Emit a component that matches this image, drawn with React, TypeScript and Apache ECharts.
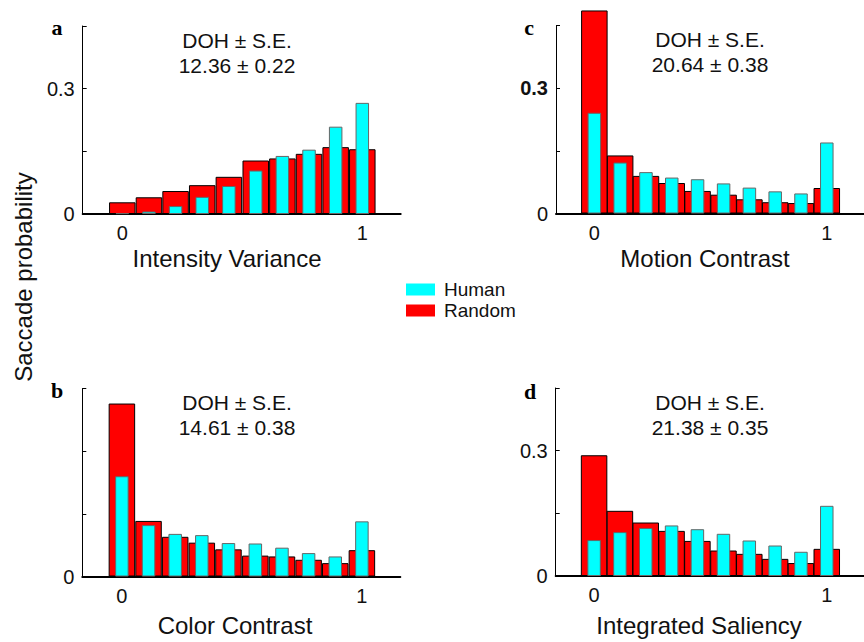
import React, { useEffect, useRef } from "react";
import * as echarts from "echarts";

const binCenters = [0, 0.111, 0.222, 0.333, 0.444, 0.556, 0.667, 0.778, 0.889, 1];

const intensityRandom = [0.028, 0.04, 0.055, 0.069, 0.089, 0.128, 0.133, 0.144, 0.16, 0.155];
const intensityHuman = [0.002, 0.006, 0.019, 0.041, 0.067, 0.104, 0.139, 0.154, 0.209, 0.266];
const motionRandom = [0.486, 0.139, 0.09, 0.073, 0.054, 0.045, 0.034, 0.027, 0.025, 0.061];
const motionHuman = [0.241, 0.122, 0.099, 0.086, 0.082, 0.072, 0.062, 0.053, 0.048, 0.17];
const colorRandom = [0.414, 0.133, 0.095, 0.081, 0.065, 0.05, 0.048, 0.04, 0.032, 0.063];
const colorHuman = [0.24, 0.123, 0.102, 0.099, 0.08, 0.079, 0.069, 0.056, 0.048, 0.132];
const salRandom = [0.289, 0.156, 0.128, 0.108, 0.084, 0.061, 0.053, 0.041, 0.031, 0.065];
const salHuman = [0.086, 0.105, 0.115, 0.121, 0.112, 0.101, 0.085, 0.073, 0.058, 0.168];

const panelLetters = ["a", "c", "b", "d"];
const axisNames = ["Intensity Variance", "Motion Contrast", "Color Contrast", "Integrated Saliency"];
const dohValues = ["12.36 ± 0.22", "20.64 ± 0.38", "14.61 ± 0.38", "21.38 ± 0.35"];
const xTickValues = [0, 1];
const yTickLabelValue = 0.3;

const FONT = "'Liberation Sans', Arial, Helvetica, sans-serif";
const SERIF = "'Liberation Serif', 'Times New Roman', serif";

export default function App() {
  const ref = useRef<HTMLDivElement>(null);
  useEffect(() => {
    document.body.style.margin = "0";
    const chart = echarts.init(ref.current!, null, { renderer: "svg" });

    const panels = [
      { left: 82.7, top: 26, random: intensityRandom, human: intensityHuman, showY3: true, boldY3: false },
      { left: 556, top: 25.5, random: motionRandom, human: motionHuman, showY3: true, boldY3: true },
      { left: 82.3, top: 388.5, random: colorRandom, human: colorHuman, showY3: false, boldY3: false },
      { left: 555.7, top: 388, random: salRandom, human: salHuman, showY3: true, boldY3: false },
    ];
    const W = 318;
    const H = 188;
    const XMIN = -0.165;
    const XMAX = 1.16;

    const grid: any[] = [];
    const xAxis: any[] = [];
    const yAxis: any[] = [];
    const series: any[] = [];
    const graphic: any[] = [];

    panels.forEach((p, i) => {
      grid.push({ left: p.left, top: p.top, width: W, height: H, containLabel: false });
      xAxis.push({
        type: "value",
        gridIndex: i,
        min: XMIN,
        max: XMAX,
        axisLine: { show: true, onZero: false, lineStyle: { color: "#000", width: 2 } },
        axisTick: { show: false },
        splitLine: { show: false },
        axisLabel: {
          customValues: xTickValues,
          fontSize: 20,
          color: "#111",
          fontFamily: FONT,
          margin: 9,
        },
      });
      xAxis.push({
        type: "value",
        gridIndex: i,
        min: XMIN,
        max: XMAX,
        show: false,
        splitLine: { show: false },
      });
      yAxis.push({
        type: "value",
        gridIndex: i,
        min: 0,
        max: 0.45,
        interval: 0.15,
        axisLine: { show: true, onZero: false, lineStyle: { color: "#000", width: 1 } },
        axisTick: { show: true, inside: true, length: 4, lineStyle: { color: "#000" } },
        splitLine: { show: false },
        axisLabel: {
          fontSize: 20,
          color: "#111",
          fontFamily: FONT,
          margin: 8,
          formatter: (v: number) => {
            if (Math.abs(v) < 1e-9) return "0";
            if (Math.abs(v - yTickLabelValue) < 1e-6 && p.showY3) return p.boldY3 ? "{b|0.3}" : "0.3";
            return "";
          },
          rich: { b: { fontWeight: "bold", fontSize: 20, fontFamily: FONT, color: "#111" } },
        },
      });
      series.push({
        name: "Random",
        type: "bar",
        xAxisIndex: i * 2,
        yAxisIndex: i,
        barWidth: 26.5,
        clip: false,
        z: 2,
        itemStyle: { color: "#ff0000", borderColor: "#000", borderWidth: 1 },
        data: binCenters.map((c, k) => [c, p.random[k]]),
      });
      series.push({
        name: "Human",
        type: "bar",
        xAxisIndex: i * 2 + 1,
        yAxisIndex: i,
        barWidth: 13.5,
        clip: false,
        z: 3,
        itemStyle: { color: "#00ffff", borderColor: "#666", borderWidth: 1 },
        data: binCenters.map((c, k) => [c, p.human[k]]),
      });
    });

    const letterPos = [
      [57, 27],
      [529, 27],
      [57, 390],
      [530, 391],
    ];
    const dohPos = [
      [237, 53],
      [710, 52],
      [237, 415],
      [710, 415],
    ];
    const namePos = [
      [227, 258],
      [705, 258],
      [235, 625],
      [699, 625],
    ];
    for (let i = 0; i < 4; i++) {
      graphic.push({
        type: "text",
        x: letterPos[i][0],
        y: letterPos[i][1],
        style: {
          text: panelLetters[i],
          font: `bold 22px ${SERIF}`,
          fill: "#000",
          align: "center",
          verticalAlign: "middle",
        },
      });
      graphic.push({
        type: "text",
        x: dohPos[i][0],
        y: dohPos[i][1],
        style: {
          text: "DOH ± S.E.\n" + dohValues[i],
          font: `21px ${FONT}`,
          fill: "#111",
          align: "center",
          verticalAlign: "middle",
          lineHeight: 25,
        },
      });
      graphic.push({
        type: "text",
        x: namePos[i][0],
        y: namePos[i][1],
        style: {
          text: axisNames[i],
          font: `24px ${FONT}`,
          fill: "#111",
          align: "center",
          verticalAlign: "middle",
        },
      });
    }
    graphic.push({
      type: "text",
      x: 23,
      y: 277,
      rotation: Math.PI / 2,
      style: {
        text: "Saccade probability",
        font: `24px ${FONT}`,
        fill: "#111",
        align: "center",
        verticalAlign: "middle",
      },
    });

    chart.setOption({
      animation: false,
      backgroundColor: "#fff",
      grid,
      xAxis,
      yAxis,
      series,
      graphic,
      legend: {
        data: ["Human", "Random"],
        orient: "vertical",
        left: 406,
        top: 280,
        padding: 0,
        itemWidth: 29,
        itemHeight: 12,
        itemGap: 2,
        icon: "rect",
        itemStyle: { borderWidth: 0 },
        textStyle: { fontSize: 19, color: "#111", fontFamily: FONT, padding: [0, 0, 0, 4] },
      },
    });
    return () => chart.dispose();
  }, []);
  return <div ref={ref} style={{ width: 864, height: 642 }} />;
}
